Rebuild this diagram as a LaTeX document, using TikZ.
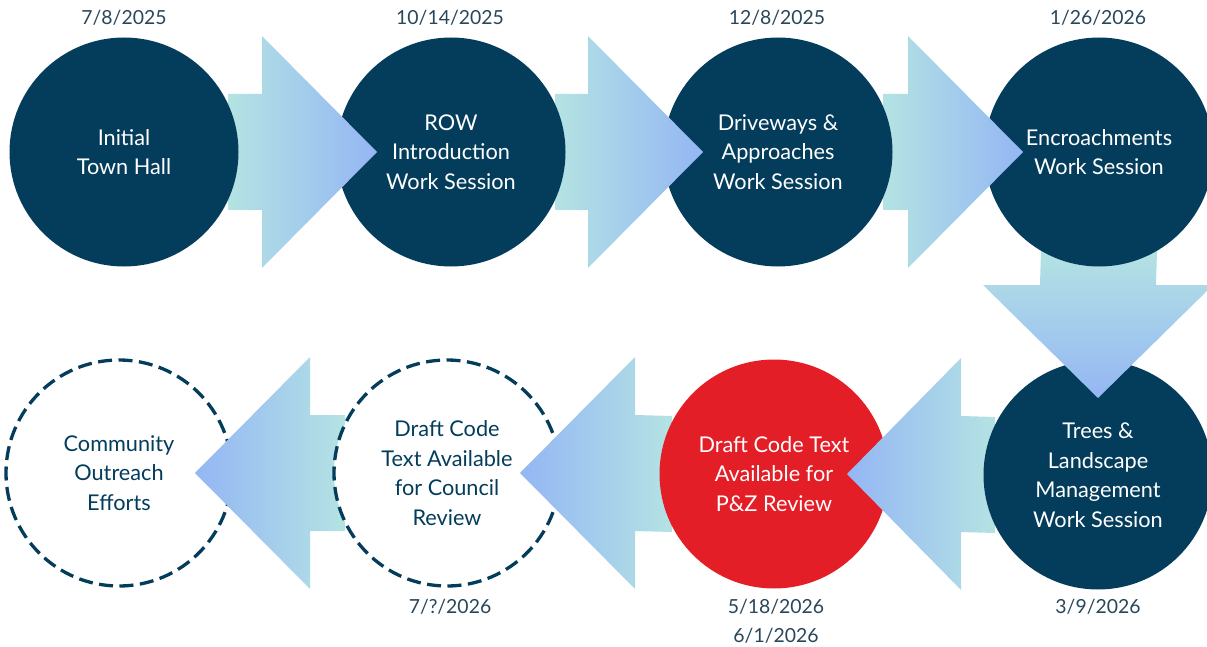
\documentclass[tikz,border=0pt]{standalone}
\usepackage{fontspec}
\setmainfont{Lato}
\usetikzlibrary{calc}
\definecolor{navy}{HTML}{043D5C}
\definecolor{redfill}{HTML}{E41E26}
\definecolor{datecol}{HTML}{2A475A}
\definecolor{tealA}{HTML}{B4E3E3}
\definecolor{blueA}{HTML}{94B6F4}
\begin{document}
\begin{tikzpicture}[x=1pt,y=-1pt,
  circ/.style={circle,minimum size=229pt,inner sep=0pt,align=center,
    font=\fontsize{21.7}{29.5}\selectfont},
  solidc/.style={circ,fill=navy,text=white},
  redc/.style={circ,fill=redfill,text=white},
  dashc/.style={circ,fill=white,draw=navy,line width=3.3pt,
    dash pattern=on 14pt off 6.5pt,text=navy,minimum size=226pt},
  datelbl/.style={font=\fontsize{19.4}{23}\selectfont,text=datecol},
  arrowR/.style={left color=tealA,right color=blueA},
  arrowL/.style={left color=blueA,right color=tealA},
  arrowD/.style={top color=tealA,bottom color=blueA}]
\useasboundingbox (0,0) rectangle (1207,647);
\clip (0,0) rectangle (1207,647);
% centres
\coordinate (p1) at (124,152);
\coordinate (p2) at (451,152);
\coordinate (p3) at (778,152);
\coordinate (p4) at (1099,152);
\coordinate (p5) at (1098,475);
\coordinate (p6) at (774,474);
\coordinate (p7) at (447,473);
\coordinate (p8) at (119,473);
% chain, drawn from the end: each arrow lies over its target and under its source
\node[dashc] (c8) at (p8) {Community\\Outreach\\Efforts};
\path[arrowL] ($(p8)+(76,0)$) -- ($(p8)+(191,-116)$) -- ($(p8)+(191,-58)$)
  -- ($(p7)+(-102,-58)$) -- ($(p7)+(-102,58)$) -- ($(p8)+(191,58)$)
  -- ($(p8)+(191,116)$) -- cycle;
\node[dashc] (c7) at (p7) {Draft Code\\Text Available\\for Council\\Review};
\path[arrowL] ($(p7)+(73,0)$) -- ($(p7)+(188,-116)$) -- ($(p7)+(188,-58)$)
  -- ($(p6)+(-102,-58)$) -- ($(p6)+(-102,58)$) -- ($(p7)+(188,58)$)
  -- ($(p7)+(188,116)$) -- cycle;
\node[redc] (c6) at (p6) {Draft Code Text\\Available for\\P\&Z Review};
\path[arrowL] ($(p6)+(73,0)$) -- ($(p6)+(187,-116)$) -- ($(p6)+(187,-58)$)
  -- ($(p5)+(-103,-58)$) -- ($(p5)+(-103,58)$) -- ($(p6)+(187,58)$)
  -- ($(p6)+(187,116)$) -- cycle;
\node[solidc] (c5) at (p5) {Trees \&\\Landscape\\Management\\Work Session};
\path[arrowD] ($(p5)+(0,-77)$) -- ($(p5)+(-115,-190)$) -- ($(p5)+(-58,-190)$)
  -- ($(p4)+(-58,98)$) -- ($(p4)+(58,98)$) -- ($(p5)+(58,-190)$)
  -- ($(p5)+(115,-190)$) -- cycle;
\node[solidc] (c4) at (p4) {Encroachments\\Work Session};
\path[arrowR] ($(p4)+(-76,0)$) -- ($(p4)+(-191,-116)$) -- ($(p4)+(-191,-58)$)
  -- ($(p3)+(105,-58)$) -- ($(p3)+(105,58)$) -- ($(p4)+(-191,58)$)
  -- ($(p4)+(-191,116)$) -- cycle;
\node[solidc] (c3) at (p3) {Driveways \&\\Approaches\\Work Session};
\path[arrowR] ($(p3)+(-75,0)$) -- ($(p3)+(-190,-116)$) -- ($(p3)+(-190,-58)$)
  -- ($(p2)+(104,-58)$) -- ($(p2)+(104,58)$) -- ($(p3)+(-190,58)$)
  -- ($(p3)+(-190,116)$) -- cycle;
\node[solidc] (c2) at (p2) {ROW\\Introduction\\Work Session};
\path[arrowR] ($(p2)+(-74,0)$) -- ($(p2)+(-189,-116)$) -- ($(p2)+(-189,-58)$)
  -- ($(p1)+(104,-58)$) -- ($(p1)+(104,58)$) -- ($(p2)+(-189,58)$)
  -- ($(p2)+(-189,116)$) -- cycle;
\node[solidc] (c1) at (p1) {Initial\\Town Hall};
% dates
\node[datelbl] (d1) at (124,18) {7/8/2025};
\node[datelbl] (d2) at (450,18) {10/14/2025};
\node[datelbl] (d3) at (777,18) {12/8/2025};
\node[datelbl] (d4) at (1098,18) {1/26/2026};
\node[datelbl] (d7) at (450,607) {7/?/2026};
\node[datelbl] (d6) at (776,607) {5/18/2026};
\node[datelbl] (d6b) at (776,636) {6/1/2026};
\node[datelbl] (d5) at (1098,607) {3/9/2026};
\end{tikzpicture}
\end{document}
